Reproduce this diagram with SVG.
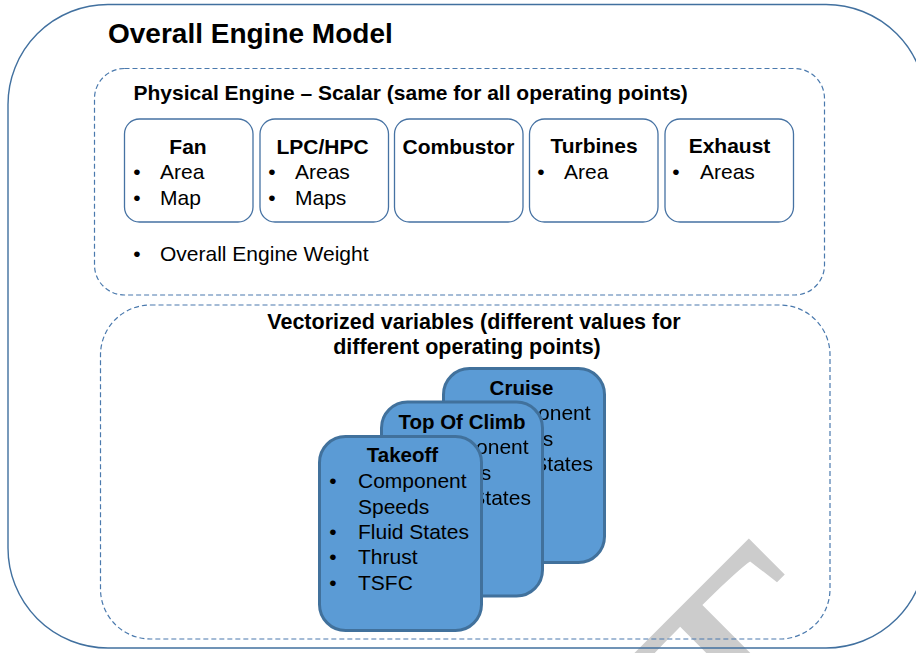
<svg xmlns="http://www.w3.org/2000/svg" width="916" height="653" viewBox="0 0 916 653">
<style>
text{font-family:"Liberation Sans",Arial,sans-serif;fill:#000}
.title{font-size:28px;font-weight:bold}
.sub{font-size:21px;font-weight:bold}
.vsub{font-size:21.5px;font-weight:bold;text-anchor:middle}
.hd{font-size:21px;font-weight:bold;text-anchor:middle}
.it{font-size:21px}
.bl{font-size:21px;text-anchor:middle}
.chd{font-size:20.5px;font-weight:bold;text-anchor:middle}
.cit{font-size:21px}
.cbl{font-size:21px;text-anchor:middle}
.outer{fill:none;stroke:#41709f;stroke-width:1.4}
.dash{fill:none;stroke:#4a79ad;stroke-width:1.2;stroke-dasharray:5 3}
.box{fill:#fff;stroke:#4672a3;stroke-width:1.3}
.card{fill:#5b9bd5;stroke:#41719c;stroke-width:3}
.wm{font-family:"Liberation Serif","Times New Roman",serif;font-size:330px;fill:#cccccc}
</style>
<defs>
  <mask id="m-toc" maskUnits="userSpaceOnUse" x="0" y="0" width="916" height="653">
    <rect x="0" y="0" width="916" height="653" fill="#fff"/>
    <rect x="318" y="435" width="165" height="197" rx="27.5" ry="27.5" fill="#000"/>
  </mask>
  <mask id="m-cruise" maskUnits="userSpaceOnUse" x="0" y="0" width="916" height="653">
    <rect x="0" y="0" width="916" height="653" fill="#fff"/>
    <rect x="380" y="400.5" width="164" height="197" rx="27.5" ry="27.5" fill="#000"/>
  </mask>
</defs>
<rect width="916" height="653" fill="#fff"/>
<text class="wm" transform="translate(763,830) rotate(-45)">T</text>

<g id="overall-engine-model">
  <rect class="outer" x="8" y="4.5" width="918" height="643.5" rx="100" ry="100"/>
  <text class="title" x="108" y="43">Overall Engine Model</text>
</g>

<g id="physical-engine">
  <rect class="dash" x="94.5" y="68.5" width="730" height="226.5" rx="30" ry="30"/>
  <text class="sub" x="133.5" y="100">Physical Engine – Scalar (same for all operating points)</text>
  <text class="bl" x="137" y="261">•</text>
  <text class="it" x="160" y="261">Overall Engine Weight</text>
</g>

<g id="fan">
  <rect class="box" x="124.5" y="119" width="128.5" height="103" rx="15" ry="15"/>
  <text class="hd" x="188" y="154">Fan</text>
  <text class="bl" x="137" y="179">•</text>
  <text class="it" x="160" y="179">Area</text>
  <text class="bl" x="137" y="204.5">•</text>
  <text class="it" x="160" y="204.5">Map</text>
</g>

<g id="lpc-hpc">
  <rect class="box" x="260" y="119" width="128.5" height="103" rx="15" ry="15"/>
  <text class="hd" x="322.5" y="154">LPC/HPC</text>
  <text class="bl" x="272" y="179">•</text>
  <text class="it" x="295" y="179">Areas</text>
  <text class="bl" x="272" y="204.5">•</text>
  <text class="it" x="295" y="204.5">Maps</text>
</g>

<g id="combustor">
  <rect class="box" x="394.5" y="119" width="128.5" height="103" rx="15" ry="15"/>
  <text class="hd" x="458.5" y="154">Combustor</text>
</g>

<g id="turbines">
  <rect class="box" x="529.5" y="119" width="128.5" height="103" rx="15" ry="15"/>
  <text class="hd" x="594" y="153">Turbines</text>
  <text class="bl" x="541" y="178.5">•</text>
  <text class="it" x="564" y="178.5">Area</text>
</g>

<g id="exhaust">
  <rect class="box" x="665" y="119" width="128.5" height="103" rx="15" ry="15"/>
  <text class="hd" x="729.5" y="153">Exhaust</text>
  <text class="bl" x="676" y="178.5">•</text>
  <text class="it" x="700" y="178.5">Areas</text>
</g>

<g id="vectorized-variables">
  <rect class="dash" x="100.5" y="305" width="729.5" height="334" rx="50" ry="50"/>
  <text class="vsub" x="474" y="329">Vectorized variables (different values for</text>
  <text class="vsub" x="467" y="353.5">different operating points)</text>
</g>

<g id="cruise">
  <rect class="card" x="443.5" y="368.5" width="161" height="194" rx="26" ry="26"/>
  <text class="chd" x="521.5" y="395">Cruise</text>
  <g mask="url(#m-cruise)">
    <text class="cit" x="482" y="420">Component</text>
    <text class="cit" x="482" y="445.5">Speeds</text>
    <text class="cit" x="482" y="471">Fluid States</text>
  </g>
</g>

<g id="top-of-climb">
  <rect class="card" x="381.5" y="402" width="161" height="194" rx="26" ry="26"/>
  <text class="chd" x="462" y="428.5">Top Of Climb</text>
  <g mask="url(#m-toc)">
    <text class="cit" x="420" y="454">Component</text>
    <text class="cit" x="420" y="479.5">Speeds</text>
    <text class="cit" x="420" y="504.5">Fluid States</text>
  </g>
</g>

<g id="takeoff">
  <rect class="card" x="319.5" y="436.5" width="162" height="194" rx="26" ry="26"/>
  <text class="chd" x="402.5" y="462">Takeoff</text>
  <text class="cbl" x="333" y="488">•</text>
  <text class="cit" x="358" y="488">Component</text>
  <text class="cit" x="358" y="513.5">Speeds</text>
  <text class="cbl" x="333" y="538.5">•</text>
  <text class="cit" x="358" y="538.5">Fluid States</text>
  <text class="cbl" x="333" y="564">•</text>
  <text class="cit" x="358" y="564">Thrust</text>
  <text class="cbl" x="333" y="589.5">•</text>
  <text class="cit" x="358" y="589.5">TSFC</text>
</g>

<g id="connectors"></g>
</svg>
